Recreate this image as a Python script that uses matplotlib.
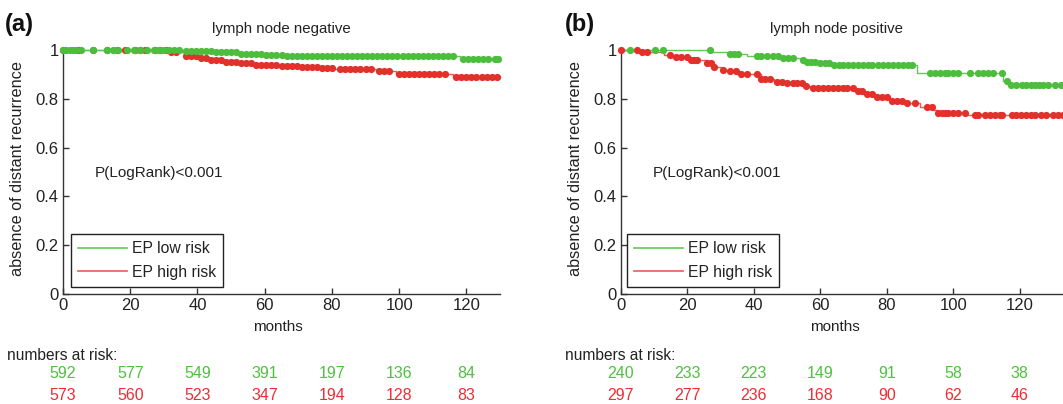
import numpy as np
import matplotlib
matplotlib.use("Agg")
import matplotlib.pyplot as plt
from matplotlib.lines import Line2D
from matplotlib.transforms import blended_transform_factory

plt.rcParams['font.family'] = ['Liberation Sans', 'DejaVu Sans']

W, H = 1063, 404

# ---------------- data ----------------
panel_letters = ["(a)", "(b)"]
panel_titles = ["lymph node negative", "lymph node positive"]
series_names = ["EP low risk", "EP high risk"]
pvalue_text = "P(LogRank)<0.001"
x_ticks = [0, 20, 40, 60, 80, 100, 120]
y_ticks = [0, 0.2, 0.4, 0.6, 0.8, 1.0]

# Panel (a): step change points (months) and survival level after each
a_low_t = [0, 36, 45, 52, 60, 66, 118, 130]
a_low_s = [1.0, 0.995, 0.99, 0.985, 0.98, 0.975, 0.962, 0.962]
a_high_t = [0, 31, 36, 40, 44, 48, 53, 57, 64, 70, 77, 81, 93, 99, 116, 130]
a_high_s = [1.0, 0.99, 0.977, 0.967, 0.96, 0.952, 0.946, 0.94, 0.935, 0.93,
            0.926, 0.921, 0.912, 0.903, 0.889, 0.889]
# censoring marks (months)
a_low_c = [0, 1, 2, 3, 4, 5.5, 9, 13, 15, 16.5, 19, 21, 23, 25, 27, 28.5, 30,
           31.5, 33, 34.5, 36.5, 38, 39.5, 41, 42.5, 44, 45.5, 47, 48.5, 50,
           51.5, 53, 54.5, 56, 57.5, 59, 60.5, 62, 63.5, 65, 66.5, 68, 69.5,
           71, 72.5, 74, 75.5, 77, 78.5, 80, 81.5, 83, 84.5, 86, 87.5, 89,
           90.5, 92, 93.5, 95, 96.5, 98, 99.5, 101, 102.5, 104, 105.5, 107,
           108.5, 110, 111.5, 113, 114.5, 116, 119, 120.5, 122, 123.5, 125,
           126.5, 128.5, 129.5]
a_high_c = [0, 4.5, 9, 13, 16, 18.5, 21.5, 23, 24.5, 27.5, 29, 30.5, 32, 33.5,
            36.5, 38, 39.5, 41, 42.5, 44, 45.5, 47, 48.5, 50, 51.5, 53, 54.5,
            56, 57.5, 59, 60.5, 62, 63.5, 65, 66.5, 68, 69.5, 71, 72.5, 74,
            75.5, 77, 78.5, 80, 82.5, 84, 85.5, 87, 88.5, 90, 91.5, 94, 95.5,
            97, 100, 101.5, 103, 104.5, 106, 107.5, 109, 110.5, 112, 113.5,
            117, 118.5, 120, 121.5, 123, 124.5, 126, 127.5, 129]
a_risk_low = [592, 577, 549, 391, 197, 136, 84]
a_risk_high = [573, 560, 523, 347, 194, 128, 83]

# Panel (b)
b_low_t = [0, 27, 32, 38, 48, 54, 56, 60, 64, 89, 115, 116.5, 133]
b_low_s = [1.0, 0.99, 0.985, 0.975, 0.968, 0.96, 0.952, 0.945, 0.938, 0.907,
           0.872, 0.855, 0.855]
b_high_t = [0, 5, 13, 15, 21, 26, 28, 30, 32, 35, 42, 46, 49, 55, 57, 70, 73,
            76.5, 81, 85, 90, 94, 95, 104, 133]
b_high_s = [1.0, 0.991, 0.98, 0.97, 0.959, 0.945, 0.93, 0.92, 0.913, 0.9,
            0.88, 0.87, 0.865, 0.852, 0.843, 0.833, 0.82, 0.809, 0.79, 0.781,
            0.765, 0.755, 0.743, 0.734, 0.734]
b_low_c = [2.7, 10.2, 12.7, 26.8, 32.8, 34, 35.2, 40.9, 42, 43.9, 45.8, 47.3,
           48.8, 50.3, 51.8, 54.8, 56, 57.3, 58.5, 60, 61.3, 62.5, 64, 65.5,
           66.9, 68.4, 70, 71.4, 73, 74.5, 75.6, 77.4, 79, 80.5, 82, 83.5, 85,
           86.5, 87.6, 93, 94.5, 96, 97.5, 98.5, 100, 101.5, 105, 107.5, 109,
           110.5, 112, 114.8, 116.3, 117.5, 119, 120.8, 122, 123.5, 124.7,
           126, 127, 128.5, 130.7, 132.5]
b_high_c = [0, 4.8, 6.3, 7.8, 14.8, 16.5, 18, 19.8, 21, 22, 23, 26, 27, 28,
            30.7, 32.8, 34.5, 36, 37.8, 40.9, 42, 43.5, 45, 47, 48.5, 50, 51.8,
            53, 54.5, 55.8, 57.8, 59.3, 60.8, 62.3, 63.8, 65.3, 66.8, 67.9,
            69.9, 71.4, 72.5, 74, 75.6, 77, 78.5, 80, 81.5, 83, 84.5, 86, 88.5,
            92, 93.5, 95.5, 96.5, 97.5, 98.5, 100, 101.5, 103.6, 106.6, 107.6,
            109.6, 111, 112.5, 114, 114.8, 117.8, 119, 120.5, 122, 123.5,
            124.7, 126.5, 128, 130, 131.5, 133]
b_risk_low = [240, 233, 223, 149, 91, 58, 38]
b_risk_high = [297, 277, 236, 168, 90, 62, 46]

# ---------------- style ----------------
GREEN_DOT = "#4dbd3e"
GREEN_LINE = "#62c955"
RED_DOT = "#e2302b"
RED_LINE = "#ee5b55"
GREEN_TXT = "#4fc040"
RED_TXT = "#ec2d34"
AX_COL = "#333333"
TXT = "#222222"

fig = plt.figure(figsize=(W / 100, H / 100), dpi=100)


def fx(px):
    return px / W


def fy(py):
    return 1 - py / H


panels = [
    dict(left=63, right=500, xmax=130, letter_x=5, title_x=281, ylab_x=18,
         months_x=278, nar_x=7, leg=(71, 287),
         low=(a_low_t, a_low_s, a_low_c), high=(a_high_t, a_high_s, a_high_c),
         risk=(a_risk_low, a_risk_high)),
    dict(left=621, right=1086, xmax=140, letter_x=565, title_x=836, ylab_x=576,
         months_x=835, nar_x=565, leg=(627, 287),
         low=(b_low_t, b_low_s, b_low_c), high=(b_high_t, b_high_s, b_high_c),
         risk=(b_risk_low, b_risk_high)),
]

top, bottom = 50, 294

for i, p in enumerate(panels):
    ax = fig.add_axes([fx(p['left']), fy(bottom), (p['right'] - p['left']) / W,
                       (bottom - top) / H])
    ax.set_xlim(0, p['xmax'])
    ax.set_ylim(0, 1)
    for sp in ['top', 'right']:
        ax.spines[sp].set_visible(False)
    for sp in ['left', 'bottom']:
        ax.spines[sp].set_color(AX_COL)
        ax.spines[sp].set_linewidth(1.0)
    ax.set_xticks(x_ticks)
    ax.set_yticks(y_ticks)
    ax.set_yticklabels([f"{v:g}" for v in y_ticks])
    ax.tick_params(direction='in', length=4, width=1, colors=AX_COL,
                   labelsize=12, labelcolor=TXT, pad=3)

    for (t, s, c), dc, lc in [(p['high'], RED_DOT, RED_LINE),
                              (p['low'], GREEN_DOT, GREEN_LINE)]:
        t = np.asarray(t)
        s = np.asarray(s)
        ax.step(t, s, where='post', color=lc, lw=1.0, clip_on=False, zorder=3)
        c = np.asarray(c)
        idx = np.searchsorted(t, c, side='right') - 1
        ax.plot(c, s[idx], 'o', ms=5.2, color=dc, mec='none', clip_on=False,
                zorder=4)

    # p-value
    ax.text(9.5, (bottom - 173) / (bottom - top), pvalue_text,
            fontsize=11, color=TXT, va='center', ha='left')

    # legend
    l, bpx = p['leg']
    handles = [Line2D([], [], color=GREEN_LINE, lw=1.2),
               Line2D([], [], color=RED_LINE, lw=1.2)]
    leg = ax.legend(handles, series_names, loc='lower left',
                    bbox_to_anchor=(fx(l), fy(bpx)),
                    bbox_transform=fig.transFigure, fontsize=11.3,
                    frameon=True, fancybox=False, framealpha=1,
                    edgecolor='#222222', handlelength=3.1, handletextpad=0.35,
                    borderpad=0.45, labelspacing=0.55, borderaxespad=0)
    leg.get_frame().set_linewidth(1.0)
    for txt in leg.get_texts():
        txt.set_color(TXT)

    # texts in figure coordinates
    fig.text(fx(p['letter_x']), fy(25), panel_letters[i], fontsize=17,
             fontweight='bold', va='center', ha='left', color='#111111')
    fig.text(fx(p['title_x']), fy(29), panel_titles[i], fontsize=10.8,
             va='center', ha='center', color=TXT)
    fig.text(fx(p['ylab_x']), fy(168), "absence of distant recurrence",
             rotation=90, fontsize=11.7, va='center', ha='center', color=TXT)
    fig.text(fx(p['months_x']), fy(327), "months", fontsize=11,
             va='center', ha='center', color=TXT)
    fig.text(fx(p['nar_x']), fy(356), "numbers at risk:", fontsize=11.2,
             va='center', ha='left', color=TXT)

    tr = blended_transform_factory(ax.transData, fig.transFigure)
    for xv, n_lo, n_hi in zip(x_ticks, p['risk'][0], p['risk'][1]):
        ax.text(xv, fy(374), str(n_lo), transform=tr, ha='center',
                va='center', fontsize=11.5, color=GREEN_TXT, clip_on=False)
        ax.text(xv, fy(395), str(n_hi), transform=tr, ha='center',
                va='center', fontsize=11.5, color=RED_TXT, clip_on=False)

fig.savefig("out.png", dpi=100)
